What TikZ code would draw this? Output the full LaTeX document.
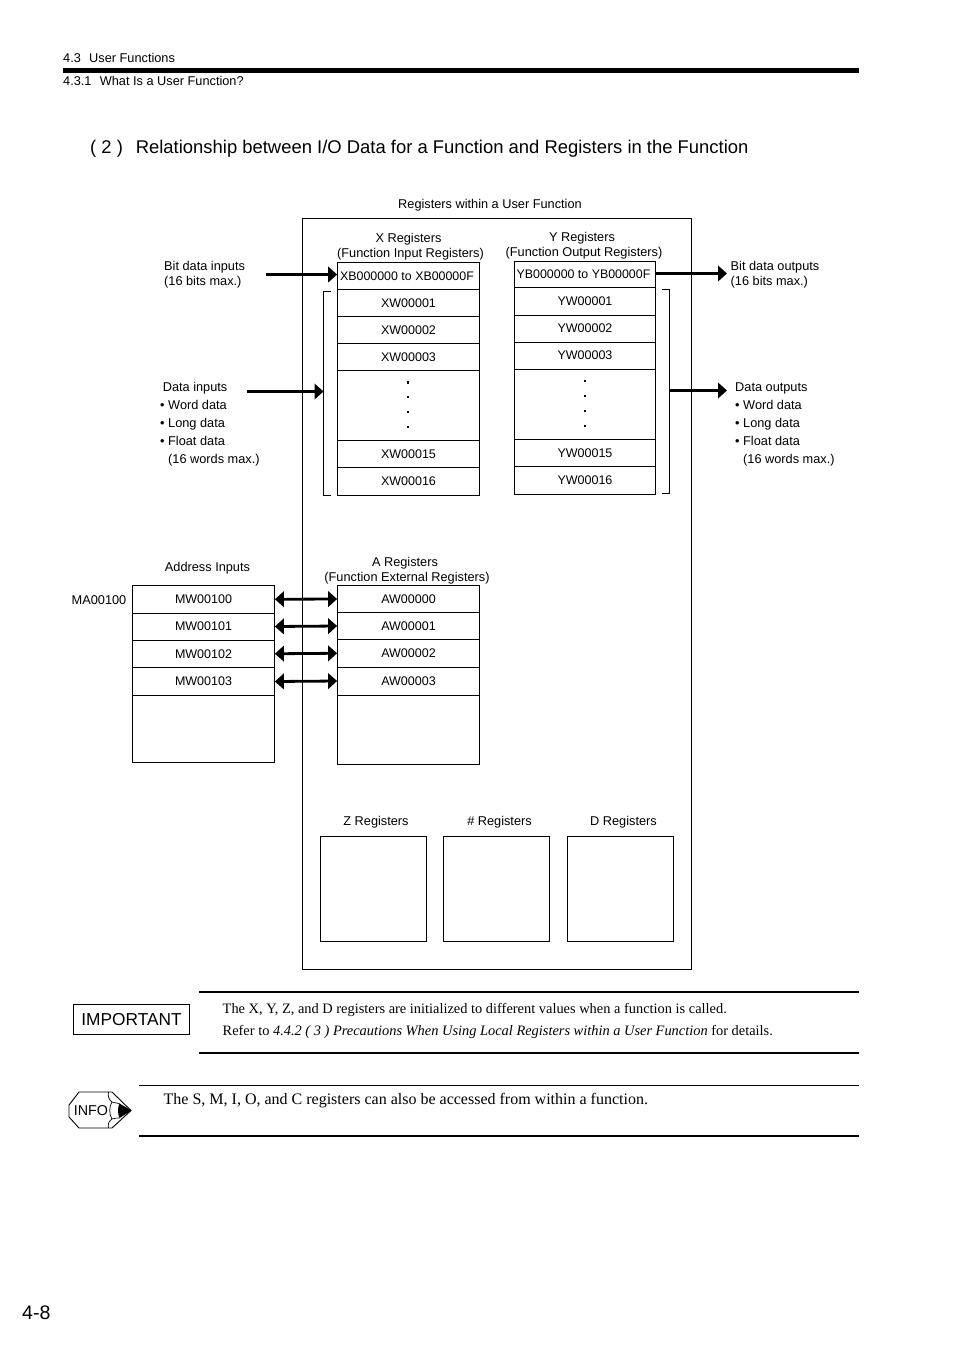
\documentclass[tikz,border=0pt]{standalone}
\usepackage{fontspec}
\setmainfont{Liberation Sans}
\newfontfamily\tnr{Liberation Serif}
\usetikzlibrary{arrows.meta}
\newcommand{\lab}{\fontsize{12.75}{15}\selectfont}
\newcommand{\clab}{\fontsize{12.5}{15}\selectfont}
\tikzset{
  x=1pt,y=-1pt,
  cell/.style={draw=black,line width=0.75pt,inner sep=0pt,font=\clab,align=center},
  txt/.style={inner sep=0pt,font=\lab,align=center},
  ltxt/.style={inner sep=0pt,font=\lab,align=left,anchor=west},
  heavy/.style={line width=2.8pt,-{Triangle[length=9pt,width=15.5pt]}},
  both/.style={line width=2.8pt,{Triangle[length=9pt,width=15.5pt]}-{Triangle[length=9pt,width=15.5pt]}},
  brk/.style={line width=0.75pt},
  vdot/.style={fill=black,inner sep=0pt,minimum size=2.5pt},
  ruleThick/.style={line width=2pt},
  ruleThin/.style={line width=1pt},
}
% name, x0, y0, x1, y1, text
\newcommand{\cellbox}[6]{%
  \pgfmathsetmacro{\cw}{#4-#2}\pgfmathsetmacro{\ch}{#5-#3}%
  \node[cell,minimum width=\cw pt,minimum height=\ch pt] (#1) at ({(#2+#4)/2},{(#3+#5)/2}) {#6};}
\begin{document}
\begin{tikzpicture}
\useasboundingbox[fill=white] (0,0) rectangle (954,1350);
% header
\node[ltxt] (h1) at (63,58) {4.3\hspace{0.65em}User Functions};
\node[fill=black,inner sep=0pt,minimum width=796pt,minimum height=5pt,anchor=west] (hbar) at (63,70.5) {};
\node[ltxt] (h2) at (63,81) {4.3.1\hspace{0.65em}What Is a User Function?};
\node[inner sep=0pt,anchor=west,font=\fontsize{18.43}{22}\selectfont] (title) at (90,149) {( 2 )\hspace{0.7em}Relationship between I/O Data for a Function and Registers in the Function};
% main box
\node[txt] (mainlab) at (490,205) {Registers within a User Function};
\cellbox{main}{302}{218.5}{691}{969}{}
% X registers
\node[txt] (xlab) at (410.5,247) {X Registers\hspace{4pt}\mbox{}\\(Function Input Registers)};
\cellbox{xb}{337.5}{262}{479.5}{289.5}{\fontsize{12.4}{15}\selectfont XB000000 to XB00000F\hspace{3pt}}
\cellbox{xw1}{337.5}{289.5}{479.5}{316.5}{XW00001}
\cellbox{xw2}{337.5}{316.5}{479.5}{343.5}{XW00002}
\cellbox{xw3}{337.5}{343.5}{479.5}{370.5}{XW00003}
\cellbox{xgap}{337.5}{370.5}{479.5}{440.5}{}
\cellbox{xw15}{337.5}{440.5}{479.5}{467.5}{XW00015}
\cellbox{xw16}{337.5}{467.5}{479.5}{495.5}{XW00016}
\foreach \i/\yy in {a/382.5,b/397,c/412,d/427}{\node[vdot] (xd\i) at (408,\yy) {};}
% Y registers
\node[txt] (ylab) at (584,246) {Y Registers\hspace{4pt}\mbox{}\\(Function Output Registers)};
\cellbox{yb}{514.5}{261}{655.5}{287.5}{\fontsize{12.4}{15}\selectfont YB000000 to YB00000F\hspace{3pt}}
\cellbox{yw1}{514.5}{287.5}{655.5}{315}{YW00001}
\cellbox{yw2}{514.5}{315}{655.5}{342}{YW00002}
\cellbox{yw3}{514.5}{342}{655.5}{369}{YW00003}
\cellbox{ygap}{514.5}{369}{655.5}{439.5}{}
\cellbox{yw15}{514.5}{439.5}{655.5}{466.5}{YW00015}
\cellbox{yw16}{514.5}{466.5}{655.5}{494.5}{YW00016}
\foreach \i/\yy in {a/381,b/396,c/411,d/426}{\node[vdot,minimum size=2pt] (yd\i) at (585,\yy) {};}
% brackets
\coordinate (lbt) at (331,291.5); \coordinate (lbb) at (331,495);
\coordinate (lbm) at (323.5,391.5);
\draw[brk] (lbt) -- (323.5,291.5) -- (323.5,495) -- (lbb);
\coordinate (rbt) at (662,289); \coordinate (rbb) at (662,493.5);
\coordinate (rbm) at (669.5,390.5);
\draw[brk] (rbt) -- (669.5,289) -- (669.5,493.5) -- (rbb);
% side labels
\node[ltxt,anchor=north west] (bi) at (164,261.5) {Bit data inputs\\(16 bits max.)};
\node[ltxt,anchor=north west] (bo) at (730.5,261.5) {Bit data outputs\\(16 bits max.)};
\node[ltxt,anchor=north west] (di) at (160,382) {\hspace{2.6pt}Data inputs\\[3pt]• Word data\\[3pt]• Long data\\[3pt]• Float data\\[3pt]\hspace{8pt}(16 words max.)};
\node[ltxt,anchor=north west] (dd) at (735,383) {Data outputs\\[3pt]• Word data\\[3pt]• Long data\\[3pt]• Float data\\[3pt]\hspace{8pt}(16 words max.)};
% arrows
\coordinate (bis) at (266,274.5);
\coordinate (dis) at (247,391.5);
\coordinate (boe) at (727,273.5);
\coordinate (doe) at (727,390.5);
\draw[heavy] (bis) -- (bis -| xb.west);
\draw[heavy] (dis) -- (lbm);
\draw[heavy] (yb.east |- boe) -- (boe);
\draw[heavy] (rbm) -- (doe);
% address inputs
\node[txt] (ailab) at (207.5,568) {Address Inputs};
\node[txt] (ma) at (99,600) {MA00100};
\cellbox{mw0}{132.5}{585.5}{274.5}{613}{MW00100}
\cellbox{mw1}{132.5}{613}{274.5}{640}{MW00101}
\cellbox{mw2}{132.5}{640}{274.5}{667.5}{MW00102}
\cellbox{mw3}{132.5}{667.5}{274.5}{695.5}{MW00103}
\cellbox{mwe}{132.5}{695.5}{274.5}{762.5}{}
% A registers
\node[txt] (alab) at (407,570.5) {A Registers\hspace{4pt}\mbox{}\\(Function External Registers)};
\cellbox{aw0}{337.5}{585.5}{479.5}{612.5}{AW00000}
\cellbox{aw1}{337.5}{612.5}{479.5}{639.5}{AW00001}
\cellbox{aw2}{337.5}{639.5}{479.5}{667}{AW00002}
\cellbox{aw3}{337.5}{667}{479.5}{695}{AW00003}
\cellbox{awe}{337.5}{695}{479.5}{764.5}{}
\draw[both] (mw0.east) -- (aw0.west);
\draw[both] (mw1.east) -- (aw1.west);
\draw[both] (mw2.east) -- (aw2.west);
\draw[both] (mw3.east) -- (aw3.west);
% bottom registers
\node[txt] (zl) at (376,822) {Z Registers};
\node[txt] (hl) at (499.5,822) {\# Registers};
\node[txt] (dl) at (623.5,822) {D Registers};
\cellbox{zb}{320.5}{836.5}{426.5}{941.5}{}
\cellbox{hb}{443.5}{836.5}{549.5}{941.5}{}
\cellbox{db}{567.5}{836.5}{673.5}{941.5}{}
% IMPORTANT
\coordinate (r1a) at (199,992); \coordinate (r1b) at (859,992);
\coordinate (r2a) at (199,1053); \coordinate (r2b) at (859,1053);
\draw[ruleThick] (r1a) -- (r1b);
\draw[ruleThick] (r2a) -- (r2b);
\node[draw=black,line width=0.9pt,inner sep=0pt,minimum width=116pt,minimum height=30pt,font=\fontsize{17.3}{22}\selectfont] (imp) at (131.5,1019.5) {IMPORTANT};
\node[ltxt,font=\tnr\fontsize{14.4}{22}\selectfont] (impt) at (222.5,1020.5) {The X, Y, Z, and D registers are initialized to different values when a function is called.\\Refer to \textit{4.4.2 ( 3 ) Precautions When Using Local Registers within a User Function} for details.};
% INFO
\coordinate (r3a) at (139,1085.5); \coordinate (r3b) at (859,1085.5);
\coordinate (r4a) at (139,1136); \coordinate (r4b) at (859,1136);
\draw[ruleThin] (r3a) -- (r3b);
\draw[ruleThick] (r4a) -- (r4b);
\draw[line width=0.9pt,line join=round] (69,1105) -- (79,1092) -- (112,1092) -- (131,1110.5) -- (112,1128) -- (79,1128) -- (69,1117) -- cycle;
\fill[black] (119.5,1103.5) -- (131.5,1110.5) -- (119.5,1118) .. controls (117.5,1114) and (117.5,1107) .. (119.5,1103.5);
\draw[line width=0.7pt] (108.5,1092) .. controls (107.5,1096) and (109,1100) .. (112,1102) .. controls (115,1103) and (117,1103) .. (119.5,1103.5);
\draw[line width=0.7pt] (108.5,1128) .. controls (107.5,1124) and (109,1121) .. (112,1119) .. controls (115,1118) and (117,1118) .. (119.5,1118);
\draw[line width=0.7pt] (112,1102) .. controls (109,1106) and (109,1115) .. (112,1119);
\node[txt,font=\fontsize{14.3}{18}\selectfont] (info) at (91,1111) {INFO};
\node[ltxt,font=\tnr\fontsize{16}{20}\selectfont] (infot) at (163.5,1100.5) {The S, M, I, O, and C registers can also be accessed from within a function.};
% page number
\node[ltxt,font=\fontsize{19.6}{24}\selectfont] (pg) at (22,1313) {4-8};
\end{tikzpicture}
\end{document}
